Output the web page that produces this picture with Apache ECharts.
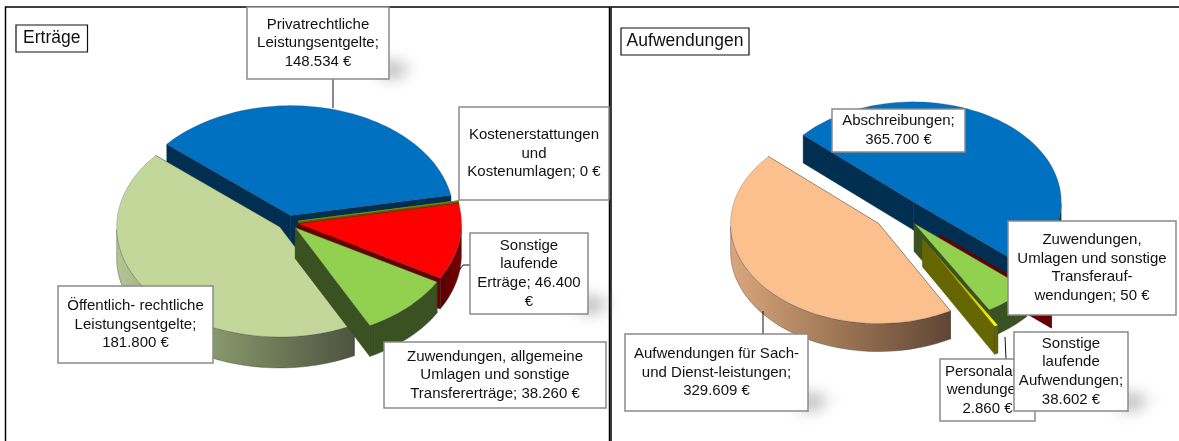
<!DOCTYPE html>
<html>
<head>
<meta charset="utf-8">
<style>
  html, body { margin: 0; padding: 0; background: #fff; }
  #main { width: 1179px; height: 441px; }
</style>
<script src="https://cdn.jsdelivr.net/npm/echarts@6/dist/echarts.min.js"></script>
</head>
<body>
<div id="main"></div>
<script>
// data, clockwise from the first slice
var ertraegeValues = [148534, 0, 46400, 38260, 181800];
var ertraegeLabels = [
    'Privatrechtliche\nLeistungsentgelte;\n148.534 €',
    'Kostenerstattungen\nund\nKostenumlagen; 0 €',
    'Sonstige\nlaufende\nErträge; 46.400\n€',
    'Zuwendungen, allgemeine\nUmlagen und sonstige\nTransfererträge; 38.260 €',
    'Öffentlich- rechtliche\nLeistungsentgelte;\n181.800 €'
];
var aufwandValues = [365700, 50, 38602, 2860, 329609];
var aufwandLabels = [
    'Abschreibungen;\n365.700 €',
    'Zuwendungen,\nUmlagen und sonstige\nTransferauf-\nwendungen; 50 €',
    'Sonstige\nlaufende\nAufwendungen;\n38.602 €',
    'Personalauf-\nwendungen;\n2.860 €',
    'Aufwendungen für Sach-\nund Dienst-leistungen;\n329.609 €'
];

// colours per slice: top face, cut wall, outer wall
function gradient(stops) {
    return new echarts.graphic.LinearGradient(0, 0, 1, 0, stops.map(function (c, i) {
        return { offset: i / (stops.length - 1), color: c };
    }));
}
var BLUE = { top: '#0070c0', wall: '#002f52', side: '#002f52' };
var ZERO = { top: '#8f8f00', wall: '#5c5c00', side: '#5c5c00' };
var YELLOW = { top: gradient(['#666600', '#ffff00']), wall: '#666600', side: '#666600' };
var RED = { top: '#ff0000', wall: '#660000', side: gradient(['#560000', '#7a0000']) };
var SLIVER = { top: '#660000', wall: '#660000', side: '#660000' };
var GREEN = { top: '#92d050', wall: '#3a5221', side: '#3a5221' };
var PALE = { top: '#c4d79b', wall: '#4f5340', side: gradient(['#b5c493', '#7f8d64', '#4f5340']) };
var PEACH = { top: '#fcc08f', wall: '#614835', side: gradient(['#d9a77d', '#9c7555', '#5f4634']) };

// pie geometry
var leftPie = {
    cx: 288, cy: 222.5, rx: 163, ry: 110, depth: 31, start: -49.5,
    explode: [0.065, 0.065, 0.065, 0.065, 0.065],
    colors: [BLUE, ZERO, RED, GREEN, PALE]
};
var rightPie = {
    cx: 900, cy: 212, rx: 148, ry: 100, depth: 28, start: -48,
    explode: [0.135, 0.35, 0.15, 0.31, 0.185],
    colors: [BLUE, SLIVER, GREEN, YELLOW, PEACH]
};

function buildSlices(values, pie) {
    var total = values.reduce(function (a, b) { return a + b; }, 0);
    var angle = pie.start;
    var slices = values.map(function (v, i) {
        var span = v / total * 360;
        var s = { index: i, value: v, from: angle, to: angle + span };
        angle += span;
        return s;
    });
    // back to front
    slices.sort(function (a, b) {
        return -Math.cos((a.from + a.to) * Math.PI / 360) + Math.cos((b.from + b.to) * Math.PI / 360);
    });
    return slices;
}

function pieSeries(values, pie) {
    var slices = buildSlices(values, pie);
    return {
        type: 'custom',
        coordinateSystem: 'none',
        silent: true,
        animation: false,
        z: 2,
        data: slices.map(function (s) { return [s.value, s.from, s.to, s.index]; }),
        renderItem: function (params, api) {
            var from = api.value(1), to = api.value(2), idx = api.value(3);
            var col = pie.colors[idx];
            var mid = (from + to) / 2 * Math.PI / 180;
            var e = pie.explode[idx];
            var ax = pie.cx + e * pie.rx * Math.sin(mid);
            var ay = pie.cy - e * pie.ry * Math.cos(mid);
            function rim(deg, down) {
                var t = deg * Math.PI / 180;
                return [ax + pie.rx * Math.sin(t), ay - pie.ry * Math.cos(t) + (down ? pie.depth : 0)];
            }
            function quad(deg) {
                return {
                    type: 'polygon',
                    shape: { points: [[ax, ay], rim(deg), rim(deg, true), [ax, ay + pie.depth]] },
                    style: { fill: col.wall, stroke: col.wall, lineWidth: 0.5 }
                };
            }
            var arc = [];
            var steps = Math.max(1, Math.ceil((to - from) / 2));
            for (var i = 0; i <= steps; i++) arc.push(from + (to - from) * i / steps);

            var children = [quad(from), quad(to)];
            // outer wall, only the part that faces the viewer
            var front = arc.filter(function (d) { return Math.cos(d * Math.PI / 180) <= 0; });
            if (front.length > 1) {
                children.push({
                    type: 'polygon',
                    shape: {
                        points: front.map(function (d) { return rim(d); })
                            .concat(front.slice().reverse().map(function (d) { return rim(d, true); }))
                    },
                    style: { fill: col.side, stroke: '#3c3c3c', lineWidth: 0.4 }
                });
            }
            var span = to - from;
            children.push({
                type: 'polygon',
                shape: { points: [[ax, ay]].concat(arc.map(function (d) { return rim(d); })) },
                style: {
                    fill: col.top,
                    stroke: span < 0.5 ? col.top : (span < 3 ? 'none' : 'rgba(70,70,70,0.45)'),
                    lineWidth: 0.6
                }
            });
            return { type: 'group', children: children };
        }
    };
}

// text boxes: [x, y, w, h, text, soft shadow]
var boxes = [
    [58, 286, 155, 77, ertraegeLabels[4], false],
    [247, 7, 142, 72, ertraegeLabels[0], true],
    [459, 107, 150, 93, ertraegeLabels[1], false],
    [470, 233, 118, 81, ertraegeLabels[2], true],
    [384, 342, 222, 66, ertraegeLabels[3], false],
    [832, 109, 133, 43, aufwandLabels[0], false],
    [1008, 221, 168, 94, aufwandLabels[1], false],
    [625, 334, 183, 77, aufwandLabels[4], true],
    [940, 359, 95, 62, aufwandLabels[3], false],
    [1014, 332, 114, 79, aufwandLabels[2], true]
];
var leaders = [
    [[333, 79], [333, 108]],
    [[470, 265], [463, 265], [458, 272]],
    [[763, 311], [763, 334]],
    [[1005, 337], [1006, 359]]
];

function buildGraphic() {
    var els = [];
    // panel frames
    [
        [[5.5, 441], [5.5, 7], [609.5, 7], [609.5, 441]],
        [[611, 441], [611, 7], [1179, 7]]
    ].forEach(function (pts) {
        els.push({
            type: 'polyline', z: 1, silent: true,
            shape: { points: pts },
            style: { fill: 'none', stroke: '#000', lineWidth: 1.5 }
        });
    });
    leaders.forEach(function (pts) {
        els.push({
            type: 'polyline', z: 5, silent: true,
            shape: { points: pts },
            style: { fill: 'none', stroke: '#111', lineWidth: 1 }
        });
    });
    var z = 6;
    boxes.forEach(function (b) {
        if (b[5]) {
            // the shape itself sits under the white box, only its blurred shadow shows
            var r = b[0] + b[2], bt = b[1] + b[3];
            els.push({
                type: 'polygon', z: z++, silent: true,
                shape: { points: [[r - 40, bt - 19], [r - 10, bt - 13], [r - 24, bt - 1], [r - 40, bt - 1]] },
                style: {
                    fill: '#bbb',
                    shadowBlur: 15, shadowOffsetX: 32, shadowOffsetY: 0,
                    shadowColor: 'rgba(130,130,130,0.6)'
                }
            });
        }
        els.push({
            type: 'rect', z: z++, silent: true,
            shape: { x: b[0], y: b[1], width: b[2], height: b[3] },
            style: { fill: '#fff', stroke: '#8a8a8a', lineWidth: 1.5 }
        });
        els.push({
            type: 'text', z: z++, silent: true,
            x: b[0] + b[2] / 2, y: b[1] + b[3] / 2,
            style: {
                text: b[4], align: 'center', verticalAlign: 'middle',
                font: '15px "Liberation Sans", Arial, sans-serif', lineHeight: 18.6, fill: '#111'
            }
        });
    });
    // chart titles
    [[16, 25, 71.5, 27, 'Erträge'], [621, 28, 128, 27, 'Aufwendungen']].forEach(function (t) {
        els.push({
            type: 'rect', z: z++, silent: true,
            shape: { x: t[0], y: t[1], width: t[2], height: t[3] },
            style: { fill: '#fff', stroke: '#111', lineWidth: 1.2 }
        });
        els.push({
            type: 'text', z: z++, silent: true,
            x: t[0] + t[2] / 2, y: t[1] + t[3] / 2,
            style: {
                text: t[4], align: 'center', verticalAlign: 'middle',
                font: '17.5px "Liberation Sans", Arial, sans-serif', fill: '#111'
            }
        });
    });
    return els;
}

var myChart = echarts.init(document.getElementById('main'));
myChart.setOption({
    animation: false,
    backgroundColor: '#fff',
    graphic: buildGraphic(),
    series: [pieSeries(ertraegeValues, leftPie), pieSeries(aufwandValues, rightPie)]
});
</script>
</body>
</html>
